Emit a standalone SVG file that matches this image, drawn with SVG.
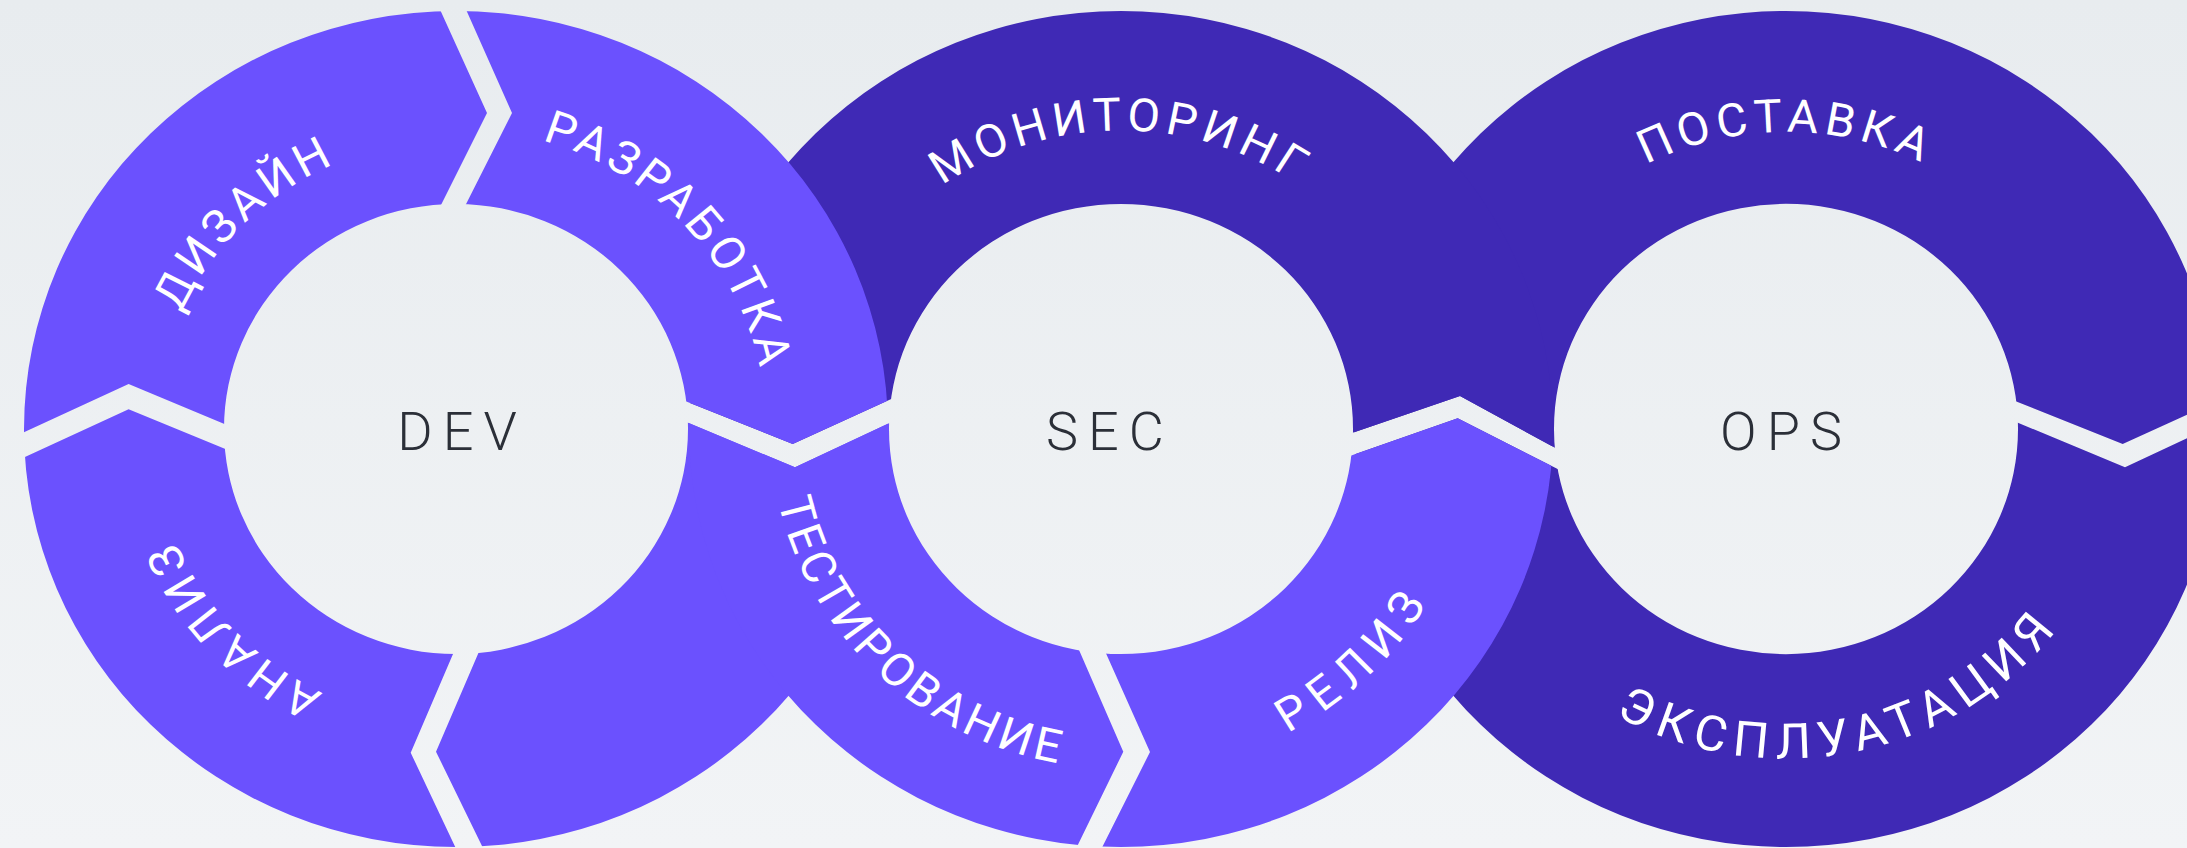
<svg xmlns="http://www.w3.org/2000/svg" width="2187" height="848" viewBox="0 0 2187 848">
<defs>
<linearGradient id="bg" x1="0" y1="0" x2="0" y2="848" gradientUnits="userSpaceOnUse">
<stop offset="0" stop-color="#e8ecef"/>
<stop offset="1" stop-color="#f2f4f6"/>
</linearGradient>
<style>
.light{fill:#6b51fe;fill-rule:evenodd}
.dark{fill:#3f29b5;fill-rule:evenodd}
.lbl{font-family:Roboto,"Noto Sans","DejaVu Sans",sans-serif;font-size:46px;font-weight:400;fill:#ffffff}
.ctr{font-family:Roboto,"Noto Sans","DejaVu Sans",sans-serif;font-size:54px;font-weight:300;fill:#2b2f38;letter-spacing:10px;text-anchor:middle}
</style>
<clipPath id="c-dizain"><polygon points="456,429 433.5,220 487,113 441,11.7 413,-50 -50,-50 -50,466.4 24.5,432 128.6,384 240,430.6"/></clipPath>
<clipPath id="c-razrab"><polygon points="456,429 458,220 512,113 467,11.7 439.6,-50 950,-50 950,372.3 890.7,399.3 792.7,444 670,395"/></clipPath>
<clipPath id="c-devlr"><polygon points="456,429 670,415.3 689.3,423.3 795,467.3 890,422.7 950,394.5 950,900 508.2,900 482,846 436,751.7 484,640"/></clipPath>
<clipPath id="c-analiz"><polygon points="456,429 240,455 128.6,409.3 25.5,456.7 -50,491.4 -50,900 480.3,900 455.6,847.7 410.7,752.7 459,640"/></clipPath>
<clipPath id="c-monit"><polygon points="650,387 689.3,402.7 792.7,444 890.7,399.3 905.4,392.6 1121,429 1336.6,438.2 1460,396 1554,447.3 1600,472.4 1600,-50 650,-50"/></clipPath>
<clipPath id="c-test"><polygon points="650,407 689.3,423.3 795,467.3 890,422.7 904,416 1121,429 1074.9,640.6 1123.3,751.7 1078.3,844 1051,900 650,900"/></clipPath>
<clipPath id="c-reliz"><polygon points="1121,429 1337,460.5 1457.7,418.3 1551.7,466 1600,490.5 1600,900 1075.7,900 1103.3,845 1150,752 1101.6,643.4"/></clipPath>
<clipPath id="c-post"><polygon points="1300,450.7 1352.7,432.7 1460,396 1554,447.3 1568,455 1786,429 1998.6,394.4 2122.7,444 2220.7,399.3 2260,381.4 2260,-50 1300,-50"/></clipPath>
<clipPath id="c-expl"><polygon points="1300,473.4 1352.7,455 1457.7,418.3 1551.7,466 1570,475.3 1786,429 1998.2,414.5 2125,467.3 2220,422.7 2260,404 2260,900 1300,900"/></clipPath>
<path id="p-dizain" d="M -238.1 165.5 A 290 290 0 0 1 167.2 -237.0"/>
<path id="p-razrab" d="M -161.3 -253.6 A 300.6 300.6 0 0 1 238.3 183.2"/>
<path id="p-analiz" d="M 159.1 246.9 A 293.7 293.7 0 0 1 -233.9 -177.6"/>
<path id="p-monit" d="M -294.2 -51.1 A 298.6 298.6 0 0 1 293.9 -52.6"/>
<path id="p-test" d="M -282.3 -188.6 A 339.5 339.5 0 0 0 200.8 273.8"/>
<path id="p-reliz" d="M -199.8 280.0 A 344 344 0 0 0 283.5 -194.8"/>
<path id="p-post" d="M -292.5 -51.6 A 297 297 0 0 1 292.5 -51.6"/>
<path id="p-expl" d="M -308.8 123.8 A 333.4 333.4 0 0 0 332.5 -10.7"/>
</defs>
<rect id="background" x="0" y="0" width="2187" height="848" fill="url(#bg)"/>

<g id="ops-postavka">
<path class="dark" clip-path="url(#c-post)" d="M 1354 429 A 432 418 0 1 0 2218 429 A 432 418 0 1 0 1354 429 Z M 1554 429 A 232 225 0 1 0 2018 429 A 232 225 0 1 0 1554 429 Z"/>
<g transform="translate(1786 429) scale(1.033 1)"><text class="lbl" text-anchor="middle" letter-spacing="5.5"><textPath href="#p-post" startOffset="50%">ПОСТАВКА</textPath></text></g>
</g>
<g id="ops-ekspluatatsiya">
<path class="dark" clip-path="url(#c-expl)" d="M 1354 429 A 432 418 0 1 0 2218 429 A 432 418 0 1 0 1354 429 Z M 1554 429 A 232 225 0 1 0 2018 429 A 232 225 0 1 0 1554 429 Z"/>
<g transform="translate(1786 429) scale(1.033 1)"><text class="lbl" text-anchor="middle" letter-spacing="8.2" style="font-size:49px"><textPath href="#p-expl" startOffset="50%">ЭКСПЛУАТАЦИЯ</textPath></text></g>
</g>
<g id="sec-monitoring">
<path class="dark" clip-path="url(#c-monit)" d="M 689 429 A 432 418 0 1 0 1553 429 A 432 418 0 1 0 689 429 Z M 889 429 A 232 225 0 1 0 1353 429 A 232 225 0 1 0 889 429 Z"/>
<g transform="translate(1121 429) scale(1.033 1)"><text class="lbl" text-anchor="middle" letter-spacing="5.2"><textPath href="#p-monit" startOffset="50%">МОНИТОРИНГ</textPath></text></g>
</g>
<g id="dev-dizain">
<path class="light" clip-path="url(#c-dizain)" d="M 24 429 A 432 418 0 1 0 888 429 A 432 418 0 1 0 24 429 Z M 224 429 A 232 225 0 1 0 688 429 A 232 225 0 1 0 224 429 Z"/>
<g transform="translate(456 429) scale(1.033 1)"><text class="lbl" text-anchor="middle" letter-spacing="4.8"><textPath href="#p-dizain" startOffset="50%">ДИЗАЙН</textPath></text></g>
</g>
<g id="dev-razrabotka">
<path class="light" clip-path="url(#c-razrab)" d="M 24 429 A 432 418 0 1 0 888 429 A 432 418 0 1 0 24 429 Z M 224 429 A 232 225 0 1 0 688 429 A 232 225 0 1 0 224 429 Z"/>
<g transform="translate(456 429) scale(1.033 1)"><text class="lbl" text-anchor="middle" letter-spacing="4.4"><textPath href="#p-razrab" startOffset="50%">РАЗРАБОТКА</textPath></text></g>
</g>
<g id="dev-analiz">
<path class="light" clip-path="url(#c-analiz)" d="M 24 429 A 432 418 0 1 0 888 429 A 432 418 0 1 0 24 429 Z M 224 429 A 232 225 0 1 0 688 429 A 232 225 0 1 0 224 429 Z"/>
<g transform="translate(456 429) scale(1.033 1)"><text class="lbl" text-anchor="middle" letter-spacing="5.3"><textPath href="#p-analiz" startOffset="50%">АНАЛИЗ</textPath></text></g>
</g>
<g id="dev-lower-right">
<path class="light" clip-path="url(#c-devlr)" d="M 24 429 A 432 418 0 1 0 888 429 A 432 418 0 1 0 24 429 Z M 224 429 A 232 225 0 1 0 688 429 A 232 225 0 1 0 224 429 Z"/>
</g>
<g id="sec-testirovanie">
<path class="light" clip-path="url(#c-test)" d="M 689 429 A 432 418 0 1 0 1553 429 A 432 418 0 1 0 689 429 Z M 889 429 A 232 225 0 1 0 1353 429 A 232 225 0 1 0 889 429 Z"/>
<g transform="translate(1121 429) scale(1.033 1)"><text class="lbl" text-anchor="middle" letter-spacing="4.1"><textPath href="#p-test" startOffset="50%">ТЕСТИРОВАНИЕ</textPath></text></g>
</g>
<g id="sec-reliz">
<path class="light" clip-path="url(#c-reliz)" d="M 689 429 A 432 418 0 1 0 1553 429 A 432 418 0 1 0 689 429 Z M 889 429 A 232 225 0 1 0 1353 429 A 232 225 0 1 0 889 429 Z"/>
<g transform="translate(1121 429) scale(1.033 1)"><text class="lbl" text-anchor="middle" letter-spacing="10.2"><textPath href="#p-reliz" startOffset="50%">РЕЛИЗ</textPath></text></g>
</g>

<g id="center-dev"><text class="ctr" x="462" y="450">DEV</text></g>
<g id="center-sec"><text class="ctr" x="1110" y="450">SEC</text></g>
<g id="center-ops"><text class="ctr" x="1786" y="450">OPS</text></g>
<g id="connectors"></g>
</svg>
